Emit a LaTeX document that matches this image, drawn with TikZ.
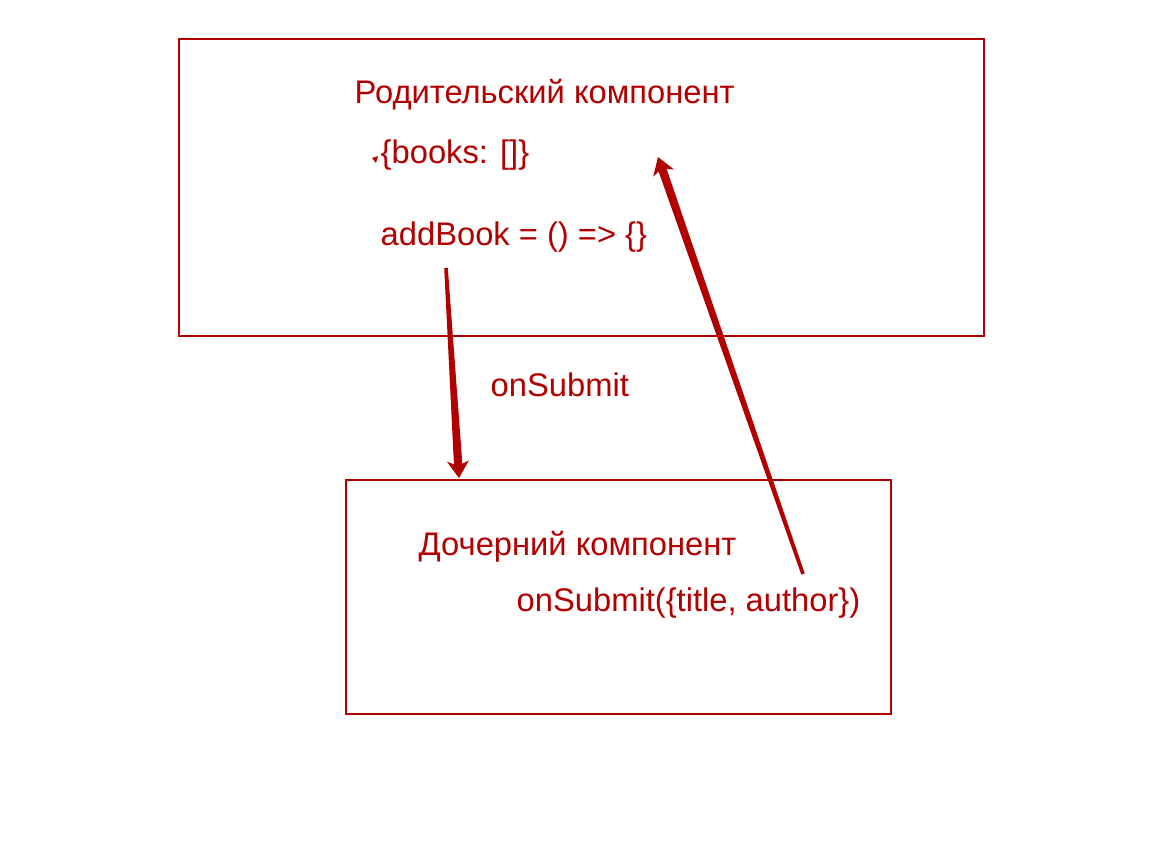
\documentclass[tikz,border=0pt]{standalone}
\usepackage{fontspec}
\setmainfont{Liberation Sans}
\usetikzlibrary{calc}
\definecolor{rot}{RGB}{178,0,0}
\tikzset{
  kasten/.style={draw=rot,line width=0.55pt},
  beschriftung/.style={anchor=base west,inner sep=0pt,text=rot,font=\fontsize{9.3}{11}\selectfont}
}
% keilfoermiger Pfeil von #1 nach #2
\newcommand{\keilpfeil}[2]{%
  \coordinate (h) at ($(#2)!0.17cm!(#1)$);
  \coordinate (k) at ($(#2)!0.14cm!(#1)$);
  \fill[rot] ($(#1)!0.018cm!90:(#2)$) -- ($(k)!0.042cm!90:(#2)$) -- ($(h)!0.11cm!90:(#2)$) --
    (#2) -- ($(h)!0.11cm!-90:(#2)$) -- ($(k)!0.042cm!-90:(#2)$) -- ($(#1)!0.018cm!-90:(#2)$) -- cycle;
}
\begin{document}
\begin{tikzpicture}[x=0.01cm,y=-0.01cm]
  \useasboundingbox (0,0) rectangle (1165,853);
  % Elternkomponente
  \draw[kasten] (179,39) rectangle (984,336);
  \node[beschriftung] (titel1) at (354,103) {Родительский компонент};
  \node[beschriftung] (state) at (380,163) {\{books: []\}};
  \node[beschriftung] (add) at (380,245) {addBook = () => \{\}};
  \fill[rot] (372,158) -- (378,156) -- (376,163) -- cycle;
  % Kindkomponente
  \draw[kasten] (346,480) rectangle (891,714);
  \node[beschriftung] (titel2) at (418,555) {Дочерний компонент};
  \node[beschriftung] (submit) at (516,611) {onSubmit(\{title, author\})};
  % Pfeile
  \node[beschriftung] (prop) at (490,396) {onSubmit};
  \coordinate (a1) at (446,268);
  \coordinate (b1) at (459,478);
  \coordinate (a2) at (803,574);
  \coordinate (b2) at (658,157);
  \keilpfeil{a1}{b1}
  \keilpfeil{a2}{b2}
\end{tikzpicture}
\end{document}
